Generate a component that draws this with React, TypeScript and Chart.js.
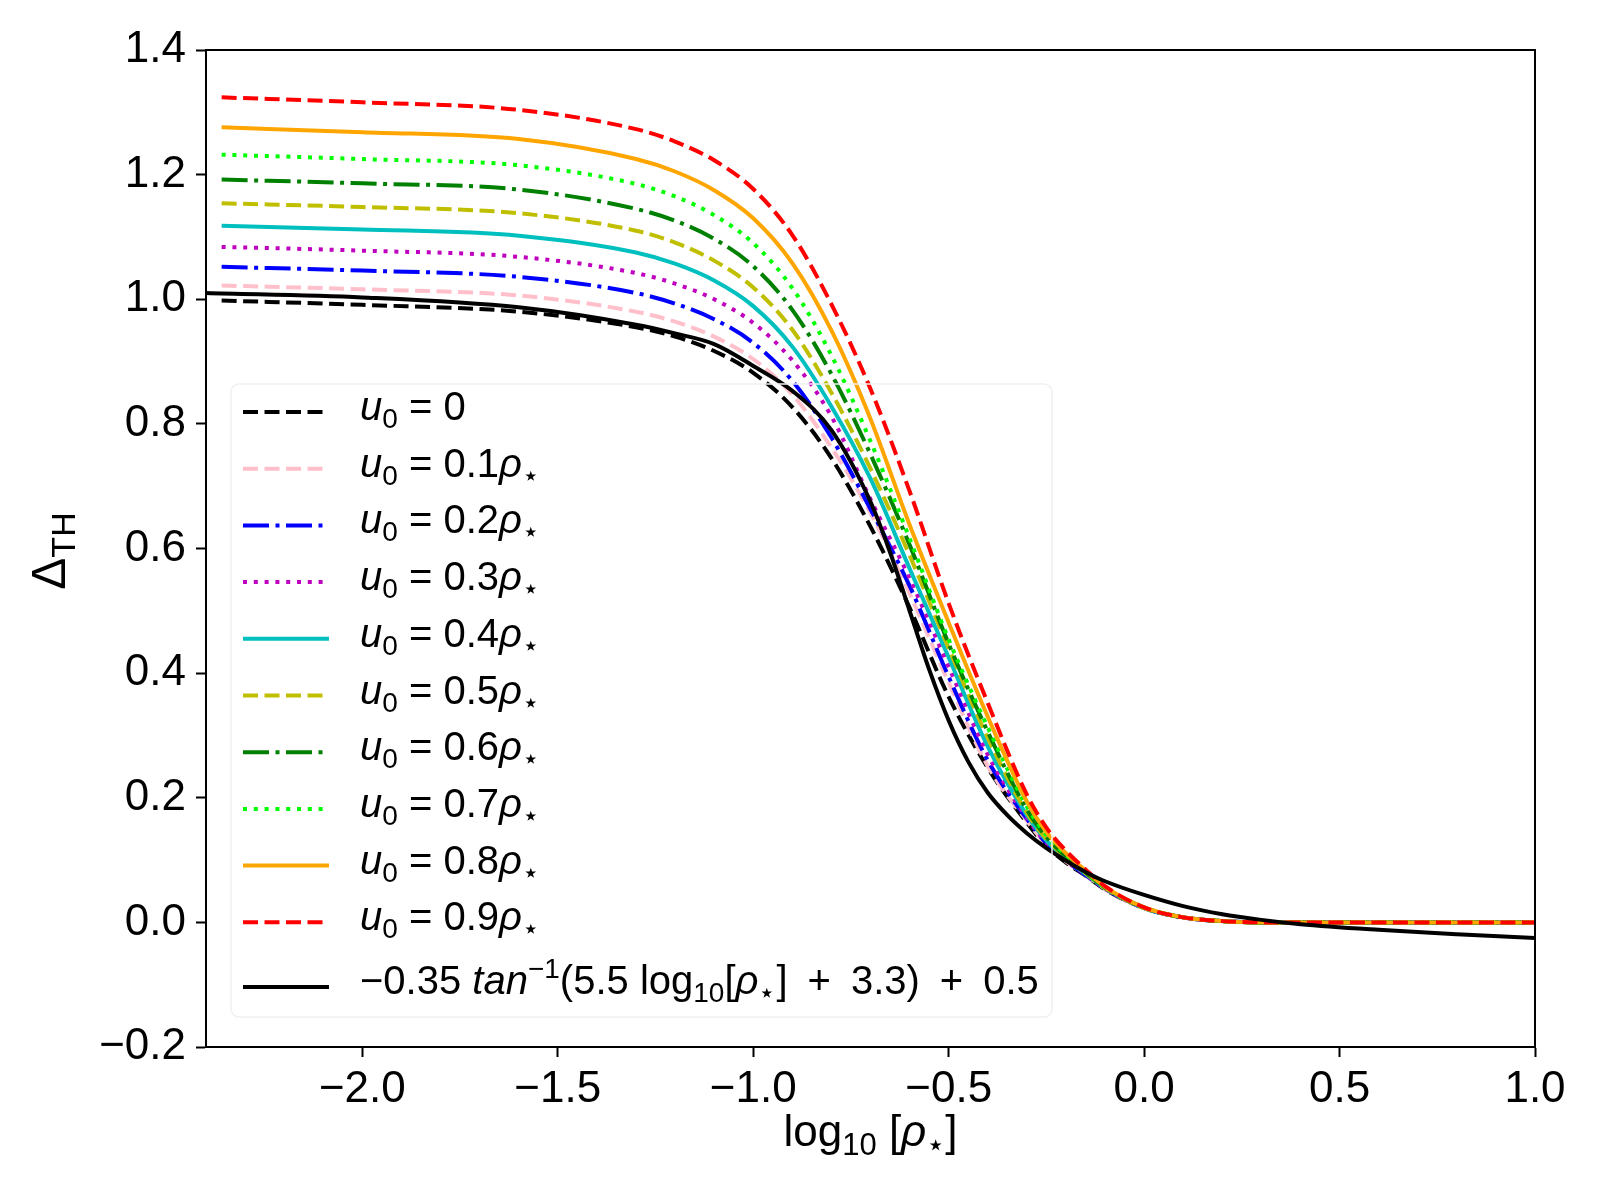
import React, { useEffect, useRef } from "react";
import { Chart, registerables } from "chart.js";

Chart.register(...registerables);

// log10 rho_* positions shared by the u0 curves
const U0_X = [-2.36, -2.0, -1.6, -1.3, -1.2, -1.1, -1.0, -0.9, -0.8, -0.7, -0.6, -0.5, -0.4, -0.3, -0.25, -0.2, -0.15, -0.1, 0.0, 0.1, 0.2, 0.3, 0.5, 1.0];

// Delta_TH for each u0
const U0_0 = [0.998, 0.991, 0.98, 0.955, 0.94, 0.917, 0.882, 0.827, 0.745, 0.635, 0.505, 0.362, 0.248, 0.16, 0.122, 0.096, 0.075, 0.053, 0.023, 0.008, 0.002, 0, 0, 0];
const U0_01 = [1.022, 1.016, 1.006, 0.98, 0.964, 0.94, 0.904, 0.847, 0.762, 0.657, 0.528, 0.385, 0.251, 0.163, 0.125, 0.098, 0.076, 0.054, 0.023, 0.008, 0.002, 0, 0, 0];
const U0_02 = [1.052, 1.046, 1.036, 1.01, 0.993, 0.968, 0.93, 0.869, 0.778, 0.663, 0.54, 0.394, 0.26, 0.166, 0.127, 0.099, 0.076, 0.054, 0.023, 0.008, 0.002, 0, 0, 0];
const U0_03 = [1.084, 1.078, 1.068, 1.042, 1.025, 1.0, 0.962, 0.902, 0.812, 0.679, 0.552, 0.41, 0.269, 0.168, 0.128, 0.1, 0.077, 0.054, 0.023, 0.008, 0.002, 0, 0, 0];
const U0_04 = [1.118, 1.112, 1.102, 1.075, 1.057, 1.03, 0.989, 0.924, 0.828, 0.712, 0.568, 0.425, 0.282, 0.172, 0.131, 0.102, 0.078, 0.055, 0.023, 0.008, 0.002, 0, 0, 0];
const U0_05 = [1.154, 1.148, 1.138, 1.11, 1.091, 1.062, 1.019, 0.951, 0.85, 0.728, 0.589, 0.44, 0.296, 0.176, 0.134, 0.104, 0.079, 0.055, 0.023, 0.008, 0.002, 0, 0, 0];
const U0_06 = [1.192, 1.186, 1.176, 1.145, 1.126, 1.097, 1.053, 0.983, 0.88, 0.751, 0.606, 0.447, 0.306, 0.181, 0.137, 0.106, 0.08, 0.056, 0.024, 0.008, 0.002, 0, 0, 0];
const U0_07 = [1.232, 1.225, 1.215, 1.185, 1.165, 1.135, 1.09, 1.018, 0.91, 0.772, 0.616, 0.454, 0.313, 0.186, 0.14, 0.108, 0.081, 0.056, 0.024, 0.008, 0.002, 0, 0, 0];
const U0_08 = [1.276, 1.268, 1.257, 1.225, 1.205, 1.175, 1.13, 1.058, 0.95, 0.808, 0.638, 0.481, 0.33, 0.194, 0.145, 0.111, 0.083, 0.057, 0.024, 0.008, 0.002, 0, 0, 0];
const U0_09 = [1.324, 1.316, 1.304, 1.273, 1.253, 1.223, 1.177, 1.103, 0.992, 0.856, 0.692, 0.512, 0.352, 0.205, 0.152, 0.115, 0.085, 0.058, 0.024, 0.008, 0.002, 0, 0, 0];

// the arctan fit, drawn across the whole axis
const FIT_X = [-2.4, -2.0, -1.6, -1.3, -1.2, -1.1, -1.0, -0.9, -0.8, -0.7, -0.65, -0.6, -0.55, -0.5, -0.45, -0.4, -0.35, -0.3, -0.25, -0.2, -0.15, -0.1, 0.0, 0.1, 0.2, 0.3, 0.4, 0.6, 0.8, 1.0];
const FIT = [1.01, 1.003, 0.987, 0.959, 0.945, 0.928, 0.893, 0.853, 0.79, 0.675, 0.594, 0.5, 0.406, 0.324, 0.258, 0.208, 0.172, 0.143, 0.119, 0.099, 0.081, 0.066, 0.044, 0.026, 0.013, 0.004, -0.003, -0.012, -0.019, -0.025];

const U0_COEFS = ["0", "0.1", "0.2", "0.3", "0.4", "0.5", "0.6", "0.7", "0.8", "0.9"];
const X_TICKS = [-2.0, -1.5, -1.0, -0.5, 0.0, 0.5, 1.0];
const Y_TICKS = [-0.2, 0.0, 0.2, 0.4, 0.6, 0.8, 1.0, 1.2, 1.4];

const FONT = '"Liberation Sans", Arial, sans-serif';
const TICK_SIZE = 44;
const LEGEND_SIZE = 40;
const TITLE_SIZE = 44;

const DASHED = [15, 6.5];
const DASHDOT = [26, 6.5, 4, 6.5];
const DOTTED = [4, 6.8];
const SOLID: number[] = [];

type Part = { t: string; it?: boolean; sub?: boolean; sup?: boolean };

const u0Label = (c: string): Part[] =>
  c === "0"
    ? [{ t: "u", it: true }, { t: "0", sub: true }, { t: " = 0" }]
    : [{ t: "u", it: true }, { t: "0", sub: true }, { t: ` = ${c}` }, { t: "ρ", it: true }, { t: "⋆", sub: true }];

const FIT_LABEL: Part[] = [
  { t: "−0.35 " },
  { t: "tan", it: true },
  { t: "−1", sup: true },
  { t: "(5.5 log" },
  { t: "10", sub: true },
  { t: "[" },
  { t: "ρ", it: true },
  { t: "⋆", sub: true },
  { t: "]\u2002+\u20023.3)\u2002+\u20020.5" },
];

const U0_DATA = [U0_0, U0_01, U0_02, U0_03, U0_04, U0_05, U0_06, U0_07, U0_08, U0_09];
const U0_STYLE = [
  { color: "#000000", dash: DASHED },
  { color: "#ffc0cb", dash: DASHED },
  { color: "#0000ff", dash: DASHDOT },
  { color: "#bf00bf", dash: DOTTED },
  { color: "#00bfbf", dash: SOLID },
  { color: "#bfbf00", dash: DASHED },
  { color: "#008000", dash: DASHDOT },
  { color: "#00ff00", dash: DOTTED },
  { color: "#ffa500", dash: SOLID },
  { color: "#ff0000", dash: DASHED },
];

const LEGEND_ITEMS = [
  ...U0_COEFS.map((c, i) => ({ parts: u0Label(c), ...U0_STYLE[i] })),
  { parts: FIT_LABEL, color: "#000000", dash: SOLID },
];

function drawRich(
  ctx: CanvasRenderingContext2D,
  parts: Part[],
  x: number,
  y: number,
  size: number,
  align: "left" | "center" = "left"
) {
  const fontOf = (p: Part) =>
    `${p.it ? "italic " : ""}${p.sub || p.sup ? Math.round(size * 0.7) : size}px ${FONT}`;
  let total = 0;
  for (const p of parts) {
    ctx.font = fontOf(p);
    total += ctx.measureText(p.t).width;
  }
  let cx = align === "center" ? x - total / 2 : x;
  ctx.textAlign = "left";
  ctx.textBaseline = "alphabetic";
  for (const p of parts) {
    ctx.font = fontOf(p);
    const dy = p.sub ? size * 0.2 : p.sup ? -size * 0.4 : 0;
    ctx.fillText(p.t, cx, y + dy);
    cx += ctx.measureText(p.t).width;
  }
}

const decorations = {
  id: "decorations",
  beforeDraw(chart: Chart) {
    const { ctx, width, height } = chart;
    ctx.save();
    ctx.fillStyle = "#ffffff";
    ctx.fillRect(0, 0, width, height);
    ctx.restore();
  },
  afterDatasetsDraw(chart: Chart) {
    const { ctx, chartArea: a } = chart;
    ctx.save();
    ctx.strokeStyle = "#000000";
    ctx.lineWidth = 2;
    ctx.strokeRect(a.left, a.top, a.right - a.left, a.bottom - a.top);
    ctx.restore();
  },
  afterDraw(chart: Chart) {
    const { ctx, chartArea: a } = chart;
    ctx.save();

    // legend frame, barely visible like the original
    ctx.strokeStyle = "#f1f1f1";
    ctx.lineWidth = 1.5;
    ctx.beginPath();
    ctx.roundRect(231, 384, 821, 633, 8);
    ctx.stroke();

    LEGEND_ITEMS.forEach((item, i) => {
      const last = i === LEGEND_ITEMS.length - 1;
      const ly = last ? 987 : 412 + i * 56.7;
      const base = last ? 994 : ly + 8;
      ctx.strokeStyle = item.color;
      ctx.lineWidth = 4;
      ctx.lineCap = "butt";
      ctx.setLineDash(item.dash);
      ctx.beginPath();
      ctx.moveTo(243, ly);
      ctx.lineTo(329, ly);
      ctx.stroke();
      ctx.setLineDash([]);
      ctx.fillStyle = "#000000";
      drawRich(ctx, item.parts, 360, base, LEGEND_SIZE);
    });

    // axis titles
    ctx.fillStyle = "#000000";
    drawRich(
      ctx,
      [{ t: "log" }, { t: "10", sub: true }, { t: " [" }, { t: "ρ", it: true }, { t: "⋆", sub: true }, { t: "]" }],
      (a.left + a.right) / 2,
      1146,
      TITLE_SIZE,
      "center"
    );
    ctx.translate(65, 551);
    ctx.rotate(-Math.PI / 2);
    drawRich(ctx, [{ t: "Δ" }, { t: "TH", sub: true }], 0, 0, 48, "center");
    ctx.restore();
  },
};

const fmt = (v: number | string) => {
  const n = Number(v);
  return (n < -1e-9 ? "\u2212" : "") + Math.abs(n).toFixed(1);
};

export default function App() {
  const canvasRef = useRef<HTMLCanvasElement | null>(null);

  useEffect(() => {
    document.body.style.margin = "0";
    const canvas = canvasRef.current;
    if (!canvas) return;

    const u0Sets = U0_DATA.map((vals, i) => ({
      label: `u0 = ${U0_COEFS[i]}`,
      data: U0_X.map((x, j) => ({ x, y: vals[j] })),
      borderColor: U0_STYLE[i].color,
      borderDash: U0_STYLE[i].dash,
      order: U0_DATA.length - i,
    }));

    const chart = new Chart(canvas, {
      type: "line",
      data: {
        datasets: [
          ...u0Sets,
          {
            label: "fit",
            data: FIT_X.map((x, j) => ({ x, y: FIT[j] })),
            borderColor: "#000000",
            borderDash: SOLID,
            order: 0,
          },
        ],
      },
      options: {
        animation: false,
        responsive: false,
        devicePixelRatio: 1,
        layout: { padding: { left: 0, right: 65, top: 50, bottom: 0 } },
        elements: {
          point: { radius: 0 },
          line: {
            borderWidth: 4,
            cubicInterpolationMode: "monotone",
            borderCapStyle: "butt",
            borderJoinStyle: "round",
            fill: false,
          },
        },
        plugins: { legend: { display: false }, tooltip: { enabled: false } },
        scales: {
          x: {
            type: "linear",
            min: -2.4,
            max: 1.0,
            afterBuildTicks: (s: any) => {
              s.ticks = X_TICKS.map((value) => ({ value }));
            },
            afterFit: (s: any) => {
              s.height = 153;
            },
            grid: { drawOnChartArea: false, tickLength: 10, tickWidth: 2, tickColor: "#000000" },
            border: { color: "#000000", width: 2 },
            ticks: {
              autoSkip: false,
              maxRotation: 0,
              padding: 6,
              color: "#000000",
              font: { family: FONT, size: TICK_SIZE },
              callback: (v: any) => fmt(v),
            },
          },
          y: {
            type: "linear",
            min: -0.2,
            max: 1.4,
            afterBuildTicks: (s: any) => {
              s.ticks = Y_TICKS.map((value) => ({ value }));
            },
            afterFit: (s: any) => {
              s.width = 206;
            },
            grid: { drawOnChartArea: false, tickLength: 10, tickWidth: 2, tickColor: "#000000" },
            border: { color: "#000000", width: 2 },
            ticks: {
              autoSkip: false,
              padding: 10,
              color: "#000000",
              font: { family: FONT, size: TICK_SIZE },
              callback: (v: any) => fmt(v),
            },
          },
        },
      },
      plugins: [decorations as any],
    });

    return () => chart.destroy();
  }, []);

  return (
    <div style={{ width: 1600, height: 1200 }}>
      <canvas ref={canvasRef} width={1600} height={1200} style={{ width: 1600, height: 1200 }} />
    </div>
  );
}
